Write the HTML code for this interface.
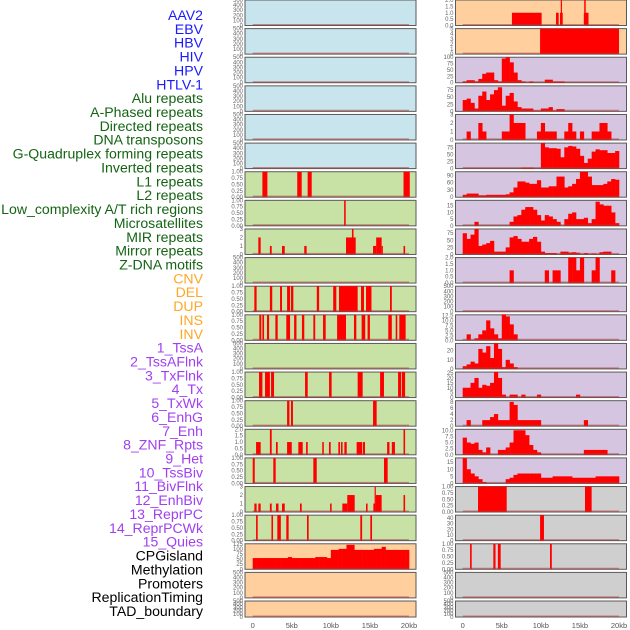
<!DOCTYPE html>
<html><head><meta charset="utf-8"><style>
html,body{margin:0;padding:0;background:#fff;}
svg{display:block;font-family:"Liberation Sans",sans-serif;}
</style></head><body>
<svg id="chart" width="630" height="630" viewBox="0 0 630 630" xmlns="http://www.w3.org/2000/svg">
<g id="labels"></g>
<g id="panels"></g>
<g id="xaxis"></g>
</svg>
<script>
const trackLabels = ["AAV2","EBV","HBV","HIV","HPV","HTLV-1","Alu repeats","A-Phased repeats","Directed repeats","DNA transposons","G-Quadruplex forming repeats","Inverted repeats","L1 repeats","L2 repeats","Low_complexity A/T rich regions","Microsatellites","MIR repeats","Mirror repeats","Z-DNA motifs","CNV","DEL","DUP","INS","INV","1_TssA","2_TssAFlnk","3_TxFlnk","4_Tx","5_TxWk","6_EnhG","7_Enh","8_ZNF_Rpts","9_Het","10_TssBiv","11_BivFlnk","12_EnhBiv","13_ReprPC","14_ReprPCWk","15_Quies","CPGisland","Methylation","Promoters","ReplicationTiming","TAD_boundary"];
const labelGroups = ["virus","virus","virus","virus","virus","virus","repeat","repeat","repeat","repeat","repeat","repeat","repeat","repeat","repeat","repeat","repeat","repeat","repeat","sv","sv","sv","sv","sv","state","state","state","state","state","state","state","state","state","state","state","state","state","state","state","other","other","other","other","other"];
const xTicks = [0,5,10,15,20];
const xTickLabels = ["0","5kb","10kb","15kb","20kb"];

const L6_start=[1.24,5.7,7.03,19.3], L6_end=[1.88,6.27,7.55,20.1], L6_val=[1,1,1,1];
const L7_start=[11.7], L7_end=[11.9], L7_val=[1];
const L8_start=[0.72,2.2,3.75,6.6,11.94,12.7,15.4,15.8,16.5,19.3], L8_end=[1.02,2.43,4.1,6.9,13.18,12.9,15.8,16.5,16.6,19.5], L8_val=[2,1,1,1,2,3,1,2,1,1];
const L10_start=[0.21,2.2,3.5,4.4,4.9,8.2,10.3,11.04,13.86,14.5,17.57], L10_end=[0.5,2.5,3.75,4.78,5.2,8.5,10.7,13.43,14.24,15.2,17.8];
const L11_start=[0.85,1.24,1.83,2.9,4.3,5.3,6.3,7.76,9.0,10.8,12.96,13.94,14.7,17.35,18.3,18.76], L11_end=[1.1,1.45,2.1,3.2,4.78,5.6,6.6,8.0,9.34,11.94,13.26,14.4,15.0,17.8,18.5,19.57];
const L13_start=[0.81,1.58,2.35,6.7,9.77,13.43,16.3,18.6,19.1], L13_end=[1.24,2.2,2.73,7.04,10.1,14.07,16.8,19.0,19.5];
const L14_start=[4.4,4.9,15.4], L14_end=[4.7,5.15,15.86];
const L15_start=[0.43,2.2,2.98,4.4,5.84,6.83,8.9,9.76,10.96,11.3,11.73,13.3,14.1,17.2,17.8,19.3], L15_end=[1.02,2.43,3.2,5.0,6.4,7.04,9.1,9.98,11.17,11.5,12.03,14.0,14.37,17.5,18.2,19.5], L15_val=[1,2,1,1,1,1,1,1,1,1,1,1,1,1,1,2];
const L16_start=[0.0,2.64,7.76,16.8], L16_end=[0.26,2.94,8.19,17.27];
const L17_start=[0.21,0.72,2.2,2.98,3.75,6.05,9.9,11.47,12.1,14.5,15.44,15.74,15.6,19.3], L17_end=[0.5,1.02,2.43,3.3,4.1,6.27,10.1,12.1,13.05,14.7,15.74,16.5,15.74,19.5], L17_val=[1,1,1,1,1,1,1,1,2,1,1,2,3,2];
const L18_start=[0.43,2.4,3.15,4.3,6.95,13.77,15.05], L18_end=[0.64,2.6,3.6,4.6,7.16,14.0,15.27];
const R0_start=[6.3,11.94,12.45,12.55,15.5,15.55], R0_end=[10.1,12.28,12.8,12.7,16.1,15.74], R0_val=[1,1,1,2,1,2];
const R1_start=[9.9], R1_end=[20.0], R1_val=[5];
const R17_start=[1.96,15.65], R17_end=[5.63,16.5];
const R18_start=[9.9], R18_end=[10.4], R18_val=[45];
const R19_start=[0.94,3.92,4.5,11.17], R19_end=[1.15,4.2,4.86,11.4];

const L19_bins=[55,55,55,55,55,55,55,55,55,60,55,55,55,55,55,55,60,60,60,55,95,95,100,100,120,120,95,95,95,95,95,100,100,110,95,95,95,95,95,95];
const R2_bins=[5,10,10,5,15,35,40,40,10,5,95,100,80,40,10,5,0,5,0,0,0,12,12,5,5,5,0,0,0,0,0,0,0,0,0,0,0,0,0,0];
const R3_bins=[40,45,30,10,55,70,40,60,75,85,20,55,65,35,15,10,10,10,3,3,10,10,15,3,8,8,0,0,0,0,0,0,0,0,0,0,0,0,0,0];
const R4_bins=[0,1,0,0,2,1,0,0,0,0,1,1,3,2,2,2,0,0,0,1,2,1,1,1,0,0,1,2,1,0,1,0,0,1,1,2,2,1,0,0];
const R5_bins=[0,0,0,0,0,0,0,0,0,0,0,0,0,0,0,3,3,3,0,0,90,75,72,72,70,40,75,80,78,70,45,20,35,60,68,65,65,55,55,62];
const R6_bins=[10,15,15,15,8,8,10,10,10,10,10,12,20,40,65,65,60,55,55,70,40,40,45,45,85,85,40,45,55,75,105,105,85,50,50,50,55,65,75,72];
const R7_bins=[0,0,0,3,0,0,0,0,0,0,0,0,3,7,8,12,14,14,12,8,4,8,7,5,3,0,5,9,10,5,5,6,2,5,18,16,15,15,10,2];
const R8_bins=[75,55,70,90,30,35,40,48,10,10,10,25,60,65,55,45,45,55,62,45,10,5,5,5,0,10,10,7,8,6,0,5,0,3,0,8,10,10,0,0];
const R9_bins=[0,0,0,0,0,0,0,0,0,0,0,0,1,0,0,0,0,0,0,0,0,1,0,1,1,0,0,2,2,1,2,0,0,1,2,0,0,0,1,0];
const R11_bins=[0,3,0,1,3,5,10,6,3,1,13,12,8,3,0,0,0,0,0,0,0,0,0,0,0,0,0,0,0,0,0,0,0,0,0,0,0,0,0,0];
const R12_bins=[3,5,8,6,22,18,25,12,28,22,2,10,6,2,0,0,0,0,0,0,0,0,0,0,0,0,0,0,0,0,0,0,0,0,0,0,0,0,0,0];
const R13_bins=[10,10,15,20,10,13,12,15,26,20,3,0,3,3,0,3,0,0,0,3,0,0,0,0,0,0,0,0,0,3,0,0,0,0,0,0,0,0,0,0];
const R14_bins=[0,2,0,0,0,2,2,3,4,2,2,2,8,7,2,2,2,2,2,2,0,0,0,0,0,0,0,0,0,0,0,2,0,0,0,0,0,0,0,0];
const R15_bins=[7,5,4.5,5,2,1,3,0,0,2,2,3,5,10,10,10,8,4,2,1,0,0,0,0,0,0,0,0,0,0,0,2,2,2,2,2,2,0,0,0];
const R16_bins=[18,10,7,5,3,1,0,0,0,0,0,3,4,6,7,7,7,7,7,7,4,4,4,5,5,5,5,5,4,4,4,4,4,4,5,5,5,5,5,5];

const T_empty=["0","100","200","300","400","500"], T_bin=["0.00","0.25","0.50","0.75","1.00"];
const T_3=["0","1","2","3"], T_2=["0.0","0.5","1.0","1.5","2.0"], T_meth=["0","25","50","75","100","125"];
const T_5=["0","1","2","3","4","5"], T_100=["0","25","50","75","100"], T_75=["0","25","50","75"];
const T_90=["0","30","60","90"], T_15=["0","5","10","15"], T_125=["0.0","2.5","5.0","7.5","10.0","12.5"];
const T_20=["0","10","20"], T_25=["0","5","10","15","20","25"], T_8=["0","2","4","6","8"];
const T_10=["0.0","2.5","5.0","7.5","10.0"], T_40=["0","10","20","30","40"];

const BLUE="#c8e4ec", GREEN="#c8e1a4", ORANGE="#ffcf9d", PURPLE="#d6c5e1", GREY="#cfcfcf";
function iv(s,e,v){return {type:"iv",s:s,e:e,v:v||s.map(()=>1)};}
function bn(b){return {type:"bin",b:b};}
const leftTracks=[
 [BLUE,500,T_empty,null],[BLUE,500,T_empty,null],[BLUE,500,T_empty,null],[BLUE,500,T_empty,null],[BLUE,500,T_empty,null],[BLUE,500,T_empty,null],
 [GREEN,1,T_bin,iv(L6_start,L6_end,L6_val)],[GREEN,1,T_bin,iv(L7_start,L7_end,L7_val)],[GREEN,3,T_3,iv(L8_start,L8_end,L8_val)],
 [GREEN,500,T_empty,null],[GREEN,1,T_bin,iv(L10_start,L10_end)],[GREEN,1,T_bin,iv(L11_start,L11_end)],[GREEN,500,T_empty,null],
 [GREEN,1,T_bin,iv(L13_start,L13_end)],[GREEN,1,T_bin,iv(L14_start,L14_end)],[GREEN,2,T_2,iv(L15_start,L15_end,L15_val)],
 [GREEN,1,T_bin,iv(L16_start,L16_end)],[GREEN,3,T_3,iv(L17_start,L17_end,L17_val)],[GREEN,1,T_bin,iv(L18_start,L18_end)],
 [ORANGE,125,T_meth,bn(L19_bins)],[ORANGE,500,T_empty,null],[ORANGE,500,T_empty,null]];
const rightTracks=[
 [ORANGE,2,T_2,iv(R0_start,R0_end,R0_val)],[ORANGE,5,T_5,iv(R1_start,R1_end,R1_val)],
 [PURPLE,100,T_100,bn(R2_bins)],[PURPLE,90,T_75,bn(R3_bins)],[PURPLE,3,T_3,bn(R4_bins)],[PURPLE,90,T_75,bn(R5_bins)],
 [PURPLE,105,T_90,bn(R6_bins)],[PURPLE,19,T_15,bn(R7_bins)],[PURPLE,90,T_75,bn(R8_bins)],[PURPLE,2,T_2,bn(R9_bins)],
 [PURPLE,500,T_empty,null],[PURPLE,12.8,T_125,bn(R11_bins)],[PURPLE,28,T_20,bn(R12_bins)],[PURPLE,26,T_25,bn(R13_bins)],
 [PURPLE,8.4,T_8,bn(R14_bins)],[PURPLE,10.4,T_10,bn(R15_bins)],[PURPLE,18,T_15,bn(R16_bins)],
 [GREY,1,T_bin,iv(R17_start,R17_end)],[GREY,45,T_40,iv(R18_start,R18_end,R18_val)],[GREY,1,T_bin,iv(R19_start,R19_end)],
 [GREY,500,T_empty,null],[GREY,500,T_empty,null]];

const NS="http://www.w3.org/2000/svg";
function mk(tag,attrs,parent){const e=document.createElementNS(NS,tag);for(const k in attrs)e.setAttribute(k,attrs[k]);parent.appendChild(e);return e;}
const colors={virus:"#1a1aff",repeat:"#146414",sv:"#ffa726",state:"#a040f0",other:"#000"};
const lg=document.getElementById("labels");
trackLabels.forEach((t,i)=>{
  const el=mk("text",{x:203,y:15+i*13.86+5,"text-anchor":"end","font-size":"14.1",fill:colors[labelGroups[i]]},lg);
  
  
  el.textContent=t;
});
const pg=document.getElementById("panels");
function panelTop(r){return r*28.62;}
function panelH(r){return r===21?16:25.5;}
function drawCol(tracks,px,pw,x0,x1,side){
  const xs=kb=>x0+kb*(x1-x0)/20;
  tracks.forEach((tr,r)=>{
    const [bg,ymax,ticks,data]=tr;
    const top=panelTop(r),h=panelH(r);
    const g=mk("g",{},pg);
    
    
    mk("rect",{x:px,y:top,width:pw,height:h,fill:bg,stroke:"#5a5a5a","stroke-width":1},g);
    const ys=v=>top+h-v/ymax*h;
    ticks.forEach(t=>{
      const v=parseFloat(t);
      const tx=mk("text",{x:px-2,y:ys(v)+2,"text-anchor":"end","font-size":"6",fill:"#666"},g);
      
      
      tx.textContent=t;
    });
    if(data){
      if(data.type==="iv"){
        data.s.forEach((s,k)=>{
          const v=data.v[k];
          const b=mk("rect",{x:xs(s),y:ys(v),width:Math.max(1.2,xs(data.e[k])-xs(s)),height:ys(0)-ys(v),fill:"#ff0000"},g);
          
          
        });
      } else {
        data.b.forEach((v,k)=>{
          if(v<=0)return;
          const b=mk("rect",{x:xs(k*0.5),y:ys(v),width:xs(0.5)-xs(0)+0.3,height:ys(0)-ys(v),fill:"#ff0000"},g);
          
          
        });
      }
    }
    const bl=mk("line",{x1:xs(0),x2:xs(20),y1:top+h-0.8,y2:top+h-0.8,stroke:"rgba(170,60,60,0.55)","stroke-width":1.5},g);
    
    
  });
}
drawCol(leftTracks,245,171,252.7,409,"left");
drawCol(rightTracks,455.5,171,462.7,619,"right");
const xg=document.getElementById("xaxis");
[[252.7,409],[462.7,619]].forEach(([x0,x1])=>{
  xTicks.forEach((t,i)=>{
    const el=mk("text",{x:x0+t*(x1-x0)/20,y:628,"text-anchor":"middle","font-size":"7.5",fill:"#555"},xg);
    
    
    el.textContent=xTickLabels[i];
  });
});
</script>
</body></html>
